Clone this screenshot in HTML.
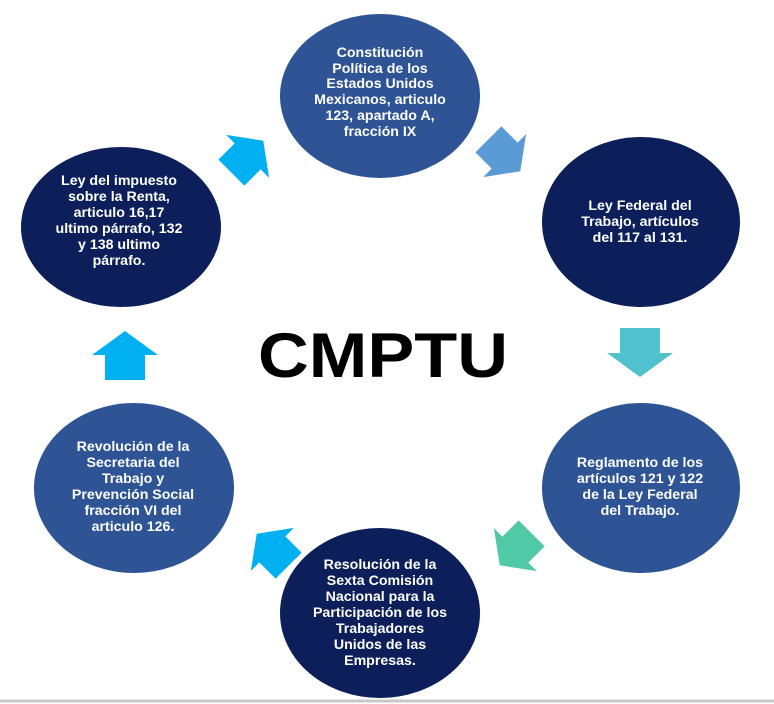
<!DOCTYPE html>
<html><head><meta charset="utf-8"><style>html,body{margin:0;padding:0;background:#fff}svg{display:block}</style></head>
<body>
<svg width="774" height="704" viewBox="0 0 774 704" xmlns="http://www.w3.org/2000/svg">
<defs>
<polygon id="arr" points="0,-25 33,-1 20,-1 20,24 -20,24 -20,-1 -33,-1"/>
</defs>
<rect width="774" height="704" fill="#fff"/>
<line x1="0" y1="701" x2="774" y2="701" stroke="#c8c8c8" stroke-width="3"/>
<ellipse cx="380" cy="96" rx="100" ry="82" fill="#2f5496"/>
<ellipse cx="641" cy="222" rx="99" ry="85" fill="#0c1f5a"/>
<ellipse cx="641" cy="488" rx="99" ry="85" fill="#2f5496"/>
<ellipse cx="380" cy="613" rx="100" ry="85" fill="#0c1f5a"/>
<ellipse cx="134" cy="488" rx="100" ry="85" fill="#2f5496"/>
<ellipse cx="121" cy="227" rx="100" ry="80" fill="#0c1f5a"/>
<use href="#arr" fill="#00b0f0" transform="translate(125,356)"/>
<use href="#arr" fill="#4fc1cf" transform="translate(640,352) rotate(180)"/>
<use href="#arr" fill="#00b0f0" transform="translate(247,157) rotate(45) scale(0.92)"/>
<use href="#arr" fill="#5b9bd5" transform="translate(504,155) rotate(135) scale(0.92)"/>
<use href="#arr" fill="#4fc9a6" transform="translate(516,549) rotate(225) scale(0.92)"/>
<use href="#arr" fill="#00b0f0" transform="translate(273,550) rotate(315) scale(0.92)"/>
<text x="383" y="377" text-anchor="middle" font-family="Liberation Sans, sans-serif" font-weight="bold" font-size="63" fill="#000" textLength="250" lengthAdjust="spacingAndGlyphs">CMPTU</text>
<g font-family="Liberation Sans, sans-serif" font-weight="bold" font-size="14.2" fill="#fff" text-anchor="middle">
<text x="380" y="57">Constitución</text>
<text x="380" y="73">Política de los</text>
<text x="380" y="88">Estados Unidos</text>
<text x="380" y="104">Mexicanos, articulo</text>
<text x="380" y="120">123, apartado A,</text>
<text x="380" y="136">fracción IX</text>
<text x="119" y="185">Ley del impuesto</text>
<text x="119" y="201">sobre la Renta,</text>
<text x="119" y="217">articulo 16,17</text>
<text x="119" y="233">ultimo párrafo, 132</text>
<text x="119" y="249">y 138 ultimo</text>
<text x="119" y="265">párrafo.</text>
<text x="640" y="210">Ley Federal del</text>
<text x="640" y="226">Trabajo, artículos</text>
<text x="640" y="242">del 117 al 131.</text>
<text x="133" y="451">Revolución de la</text>
<text x="133" y="467">Secretaria del</text>
<text x="133" y="483">Trabajo y</text>
<text x="133" y="499">Prevención Social</text>
<text x="133" y="515">fracción VI del</text>
<text x="133" y="531">articulo 126.</text>
<text x="640" y="467">Reglamento de los</text>
<text x="640" y="483">artículos 121 y 122</text>
<text x="640" y="499">de la Ley Federal</text>
<text x="640" y="515">del Trabajo.</text>
<text x="380" y="569">Resolución de la</text>
<text x="380" y="585">Sexta Comisión</text>
<text x="380" y="601">Nacional para la</text>
<text x="380" y="617">Participación de los</text>
<text x="380" y="633">Trabajadores</text>
<text x="380" y="649">Unidos de las</text>
<text x="380" y="665">Empresas.</text>
</g>
</svg>
</body></html>
